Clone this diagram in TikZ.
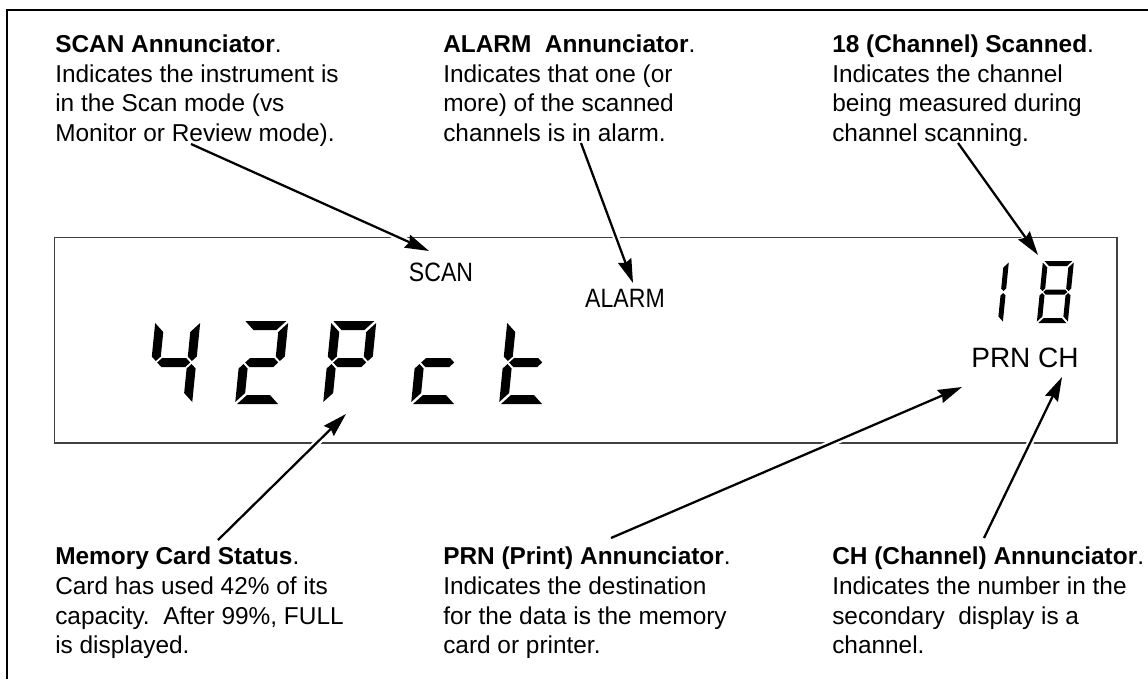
\documentclass[tikz,border=0pt]{standalone}
\usepackage{fontspec}
\usetikzlibrary{arrows.meta}
\setmainfont{Liberation Sans}
\newfontfamily\lcdfont{Liberation Sans}[FakeStretch=0.87]

% segment width, height, thickness, gap, mitre
\newcommand\segsize[5]{\def\segW{#1}\def\segH{#2}\def\segT{#3}\def\segG{#4}\def\segM{#5}}
\newcommand\sega{\fill (-\segT/2+\segM,\segH+\segT/2) -- (\segW+\segT/2-\segM,\segH+\segT/2) -- (\segW-\segT/2-\segM,\segH-\segT/2) -- (\segT/2+\segM,\segH-\segT/2) -- cycle;}
\newcommand\segb{\fill (\segW,\segH/2+\segG) -- (\segW+\segT/2,\segH/2+\segT/2+\segG) -- (\segW+\segT/2,\segH+\segT/2-\segM) -- (\segW-\segT/2,\segH-\segT/2-\segM) -- (\segW-\segT/2,\segH/2+\segT/2+\segG) -- cycle;}
\newcommand\segc{\fill (\segW,\segH/2-\segG) -- (\segW+\segT/2,\segH/2-\segT/2-\segG) -- (\segW+\segT/2,-\segT/2+\segM) -- (\segW-\segT/2,\segT/2+\segM) -- (\segW-\segT/2,\segH/2-\segT/2-\segG) -- cycle;}
\newcommand\segd{\fill (-\segT/2+\segM,-\segT/2) -- (\segW+\segT/2-\segM,-\segT/2) -- (\segW-\segT/2-\segM,\segT/2) -- (\segT/2+\segM,\segT/2) -- cycle;}
\newcommand\sege{\fill (0,\segH/2-\segG) -- (-\segT/2,\segH/2-\segT/2-\segG) -- (-\segT/2,-\segT/2+\segM) -- (\segT/2,\segT/2+\segM) -- (\segT/2,\segH/2-\segT/2-\segG) -- cycle;}
\newcommand\segf{\fill (0,\segH/2+\segG) -- (-\segT/2,\segH/2+\segT/2+\segG) -- (-\segT/2,\segH+\segT/2-\segM) -- (\segT/2,\segH-\segT/2-\segM) -- (\segT/2,\segH/2+\segT/2+\segG) -- cycle;}
\newcommand\segg{\fill (\segG,\segH/2) -- (\segT/2+\segG,\segH/2+\segT/2) -- (\segW-\segT/2-\segG,\segH/2+\segT/2) -- (\segW-\segG,\segH/2) -- (\segW-\segT/2-\segG,\segH/2-\segT/2) -- (\segT/2+\segG,\segH/2-\segT/2) -- cycle;}
\newcommand\lcdchar[3]{\scope[shift={(#1,#2)},xslant=0.1] #3 \endscope}

\begin{document}
\begin{tikzpicture}[x=0.75pt,y=0.75pt,
  note/.style={anchor=north west,align=left,inner sep=0pt,
    font=\fontsize{18.3pt}{22.2pt}\selectfont},
  lcdlabel/.style={inner sep=0pt,font=\lcdfont\fontsize{19.9pt}{20pt}\selectfont},
  arr/.style={line width=1.7pt,-{Stealth[length=18pt,width=10.5pt,inset=2pt]},
    preaction={draw=white,line width=5pt,arrows=-,shorten >=12pt,shorten <=6pt}}]
\useasboundingbox (0,0) rectangle (1148,-679);
% outline
\draw[line width=1.5pt] (7,-679) -- (7,-10) -- (1148,-10);

% display
\draw[black!75,line width=1.1pt] (54.5,-237.5) rectangle (1117,-443);
\segsize{36}{74}{9}{1.5}{2}
\lcdchar{152}{-399.5}{\segb\segc\segf\segg}      % 4
\lcdchar{240}{-399.5}{\sega\segb\segg\sege\segd} % 2
\lcdchar{328}{-399.5}{\sega\segb\segf\segg\sege} % P
\lcdchar{416}{-399.5}{\segg\sege\segd}           % c
\lcdchar{504}{-399.5}{\segf\sege\segg\segd}      % t
\segsize{26}{57}{5}{1}{1.5}
\lcdchar{974.5}{-320.5}{\segb\segc}                           % 1
\lcdchar{1039.5}{-320.5}{\sega\segb\segc\segd\sege\segf\segg} % 8
\node[lcdlabel] (scanlbl) at (441,-272) {SCAN};
\node[lcdlabel] (alarmlbl) at (625,-298) {ALARM};
\node[inner sep=0pt,font=\fontsize{21pt}{21pt}\selectfont] (prnch) at (1025,-358) {PRN CH};

% notes
\node[note] (scantxt) at (55,-34.5) {\textbf{SCAN Annunciator}.\\Indicates the instrument is\\in the Scan mode (vs\\Monitor or Review mode).};
\node[note] (alarmtxt) at (443,-34.5) {\textbf{ALARM\ \ Annunciator}.\\Indicates that one (or\\more) of the scanned\\channels is in alarm.};
\node[note] (chantxt) at (832,-34.5) {\textbf{18 (Channel) Scanned}.\\Indicates the channel\\being measured during\\channel scanning.};
\node[note] (cardtxt) at (55,-547) {\textbf{Memory Card Status}.\\Card has used 42\% of its\\capacity.\ \ After 99\%, FULL\\is displayed.};
\node[note] (prntxt) at (443,-547) {\textbf{PRN (Print) Annunciator}.\\Indicates the destination\\for the data is the memory\\card or printer.};
\node[note] (chtxt) at (832,-547) {\textbf{CH (Channel) Annunciator}.\\Indicates the number in the\\secondary\ \ display is a\\channel.};

% arrows
\coordinate (scan-from) at (191,-144);  \coordinate (scan-to) at (429,-251);
\coordinate (alarm-from) at (581,-143); \coordinate (alarm-to) at (633,-283);
\coordinate (chan-from) at (958,-143);  \coordinate (chan-to) at (1038,-255);
\coordinate (card-from) at (218,-540);  \coordinate (card-to) at (346,-414);
\coordinate (prn-from) at (611,-538);   \coordinate (prn-to) at (962,-387);
\coordinate (ch-from) at (984,-538);    \coordinate (ch-to) at (1062,-377);
\foreach \a in {scan,alarm,chan,card,prn,ch}
  \draw[arr] (\a-from) -- (\a-to);
\end{tikzpicture}
\end{document}
